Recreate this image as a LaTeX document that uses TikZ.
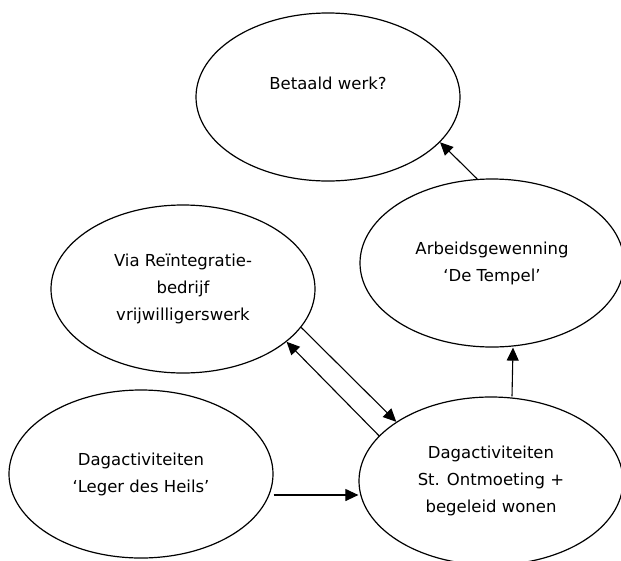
\documentclass[tikz,border=0pt]{standalone}
\usepackage{fontspec}
\setmainfont{DejaVu Sans}
\usepackage{tikz}
\usetikzlibrary{shapes.geometric, arrows.meta}

\begin{document}
\begin{tikzpicture}[x=1pt, y=-1pt,
  stage/.style={draw, ellipse, line width=1.2pt, minimum width=264pt,
    minimum height=168pt, inner sep=0pt, align=center,
    font=\fontsize{16.5}{27}\selectfont},
  flow/.style={-{Triangle[length=13pt, width=12pt]}, line width=1.1pt}]
  \useasboundingbox (0,0) rectangle (621,560);

  % stages
  \node[stage] (betaald)  at (328,  97) {Betaald werk?\\ ~};
  \node[stage] (arbeids)  at (492, 263) {Arbeidsgewenning\\‘De Tempel’};
  \node[stage] (via)      at (183, 289) {Via Reïntegratie-\\bedrijf\\vrijwilligerswerk};
  \node[stage] (leger)    at (141, 474) {Dagactiviteiten\\‘Leger des Heils’};
  \node[stage] (dag)      at (491, 481) {Dagactiviteiten\\St. Ontmoeting +\\begeleid wonen};

  % arrows
  \draw[flow] ([yshift=-21pt]leger.east) -- ([yshift=-21pt]leger.east -| dag.west);
  \draw[flow] (via.-18)   -- (dag.148);
  \draw[flow] (dag.158)   -- (via.-27);
  \draw[flow] ([xshift=21pt]dag.north) -- ([xshift=21pt]arbeids.south);
  \draw[flow] (arbeids.100) -- (betaald.-22);
\end{tikzpicture}
\end{document}
